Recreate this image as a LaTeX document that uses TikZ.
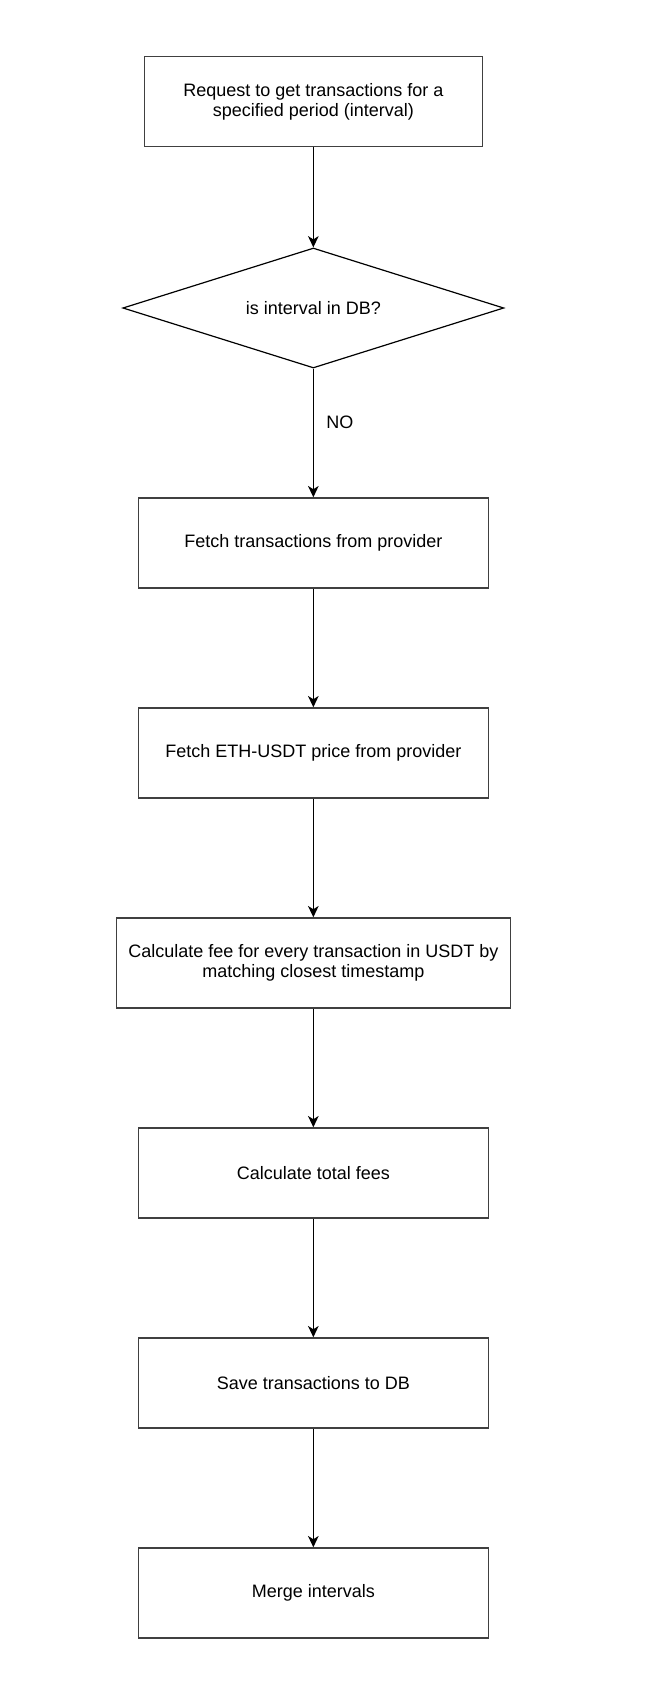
\documentclass[tikz,border=0pt]{standalone}
\usepackage{fontspec}
\setmainfont{Liberation Sans}
\usetikzlibrary{positioning, arrows.meta, shapes.geometric}
\tikzset{
    process/.style={rectangle, draw=black!75, line width=1pt, fill=white, align=center, minimum width=262.5pt, minimum height=67.5pt, font=\fontsize{13.5}{15.5}\selectfont},
    decision/.style={diamond, draw=black, line width=0.9pt, fill=white, align=center, aspect=3.175, minimum width=285.75pt, minimum height=90pt, inner sep=0pt, font=\fontsize{13.5}{15.5}\selectfont},
    arrow/.style={-{Stealth[length=8.5pt, width=8pt, inset=2.5pt]}, line width=0.9pt},
    label/.style={font=\fontsize{13.5}{15.5}\selectfont}
}
\begin{document}
\begin{tikzpicture}
        \useasboundingbox[fill=white] (0,0) rectangle (486pt,-1270.5pt);

        % Nodes
        \node[process, minimum width=253.5pt] (Request) at (235pt,-76.3pt) {Request to get transactions for a\\specified period (interval)};
        \node[decision, below=75pt of Request] (InDB) {is interval in DB?};
        \node[process, below=96.5pt of InDB] (FetchTx) {Fetch transactions from provider};
        \node[process, below=89pt of FetchTx] (FetchPrice) {Fetch ETH-USDT price from provider};
        \node[process, minimum width=295.5pt, below=89pt of FetchPrice] (CalcFee) {Calculate fee for every transaction in USDT by\\matching closest timestamp};
        \node[process, below=89pt of CalcFee] (Total) {Calculate total fees};
        \node[process, below=89pt of Total] (Save) {Save transactions to DB};
        \node[process, below=89pt of Save] (Merge) {Merge intervals};

        % Edges
        \draw[arrow] (Request) -- (InDB);
        \draw[arrow] (InDB) -- (FetchTx) node[label, pos=0.42, right=6pt] {NO};
        \draw[arrow] (FetchTx) -- (FetchPrice);
        \draw[arrow] (FetchPrice) -- (CalcFee);
        \draw[arrow] (CalcFee) -- (Total);
        \draw[arrow] (Total) -- (Save);
        \draw[arrow] (Save) -- (Merge);

\end{tikzpicture}
\end{document}
